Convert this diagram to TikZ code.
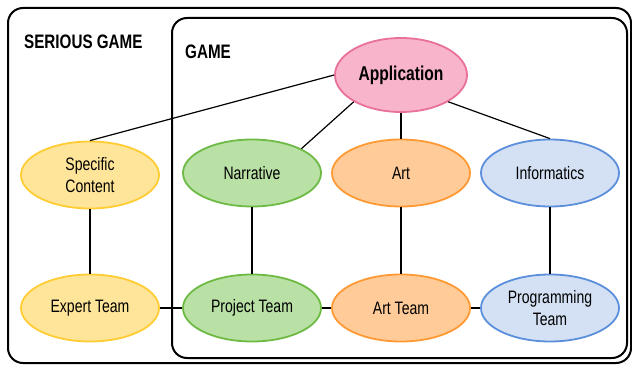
\documentclass[tikz,border=0pt]{standalone}
\usepackage{fontspec}
\setmainfont[FakeStretch=0.78]{Liberation Sans}
\usetikzlibrary{shapes.geometric}

\definecolor{yelFill}{HTML}{FFE599}
\definecolor{yelLine}{HTML}{FFCC33}
\definecolor{grnFill}{HTML}{B9E0A5}
\definecolor{grnLine}{HTML}{6DBB45}
\definecolor{orgFill}{HTML}{FFCC99}
\definecolor{orgLine}{HTML}{FF9933}
\definecolor{bluFill}{HTML}{D4E1F5}
\definecolor{bluLine}{HTML}{5B8FDB}
\definecolor{pnkFill}{HTML}{F8B4CB}
\definecolor{pnkLine}{HTML}{E8709A}

\tikzset{
  frame/.style={draw=black, line width=2pt, rounded corners=15pt},
  title/.style={anchor=west, inner sep=0pt, font=\fontsize{19.5}{22}\selectfont\bfseries},
  bubble/.style={ellipse, minimum width=138pt, minimum height=67pt, inner sep=0pt,
    line width=1.8pt, align=center, font=\fontsize{18}{22}\selectfont},
  yel/.style={bubble, fill=yelFill, draw=yelLine},
  grn/.style={bubble, fill=grnFill, draw=grnLine},
  org/.style={bubble, fill=orgFill, draw=orgLine},
  blu/.style={bubble, fill=bluFill, draw=bluLine},
  pnk/.style={bubble, fill=pnkFill, draw=pnkLine, minimum width=132pt, minimum height=74pt,
    font=\fontsize{20}{22}\selectfont\bfseries},
  link/.style={draw=black, line width=1.2pt},
}

\begin{document}
\begin{tikzpicture}[x=1pt, y=-1pt]
  \useasboundingbox (0,0) rectangle (632,366);

  % outer and inner frames
  \draw[frame] (8,8) rectangle (631,363);
  \draw[frame] (172,18) rectangle (627,358);
  \node[title] (tserious) at (24,42) {SERIOUS GAME};
  \node[title] (tgame) at (185,52) {GAME};

  % top node
  \node[pnk] (app) at (401,75) {Application};

  % middle row
  \node[yel] (spec) at (90,175) {Specific\\Content};
  \node[grn] (nar) at (252,173) {Narrative};
  \node[org] (art) at (401,173) {Art};
  \node[blu] (inf) at (550,173) {Informatics};

  % bottom row
  \node[yel] (expert) at (90,308) {Expert Team};
  \node[grn] (proj) at (252,308) {Project Team};
  \node[org] (artteam) at (401,308) {Art Team};
  \node[blu] (prog) at (550,308) {Programming\\Team};

  % links from the application
  \draw[link] (app.west) -- (spec.north);
  \draw[link] (app.south west) -- (nar.north east);
  \draw[link] (app.south) -- (art.north);
  \draw[link] (app.south east) -- (inf.north);

  % vertical links
  \draw[link] (spec) -- (expert);
  \draw[link] (nar) -- (proj);
  \draw[link] (art) -- (artteam);
  \draw[link] (inf) -- (prog);

  % horizontal links
  \draw[link] (expert) -- (proj);
  \draw[link] (proj) -- (artteam);
  \draw[link] (artteam) -- (prog);
\end{tikzpicture}
\end{document}
